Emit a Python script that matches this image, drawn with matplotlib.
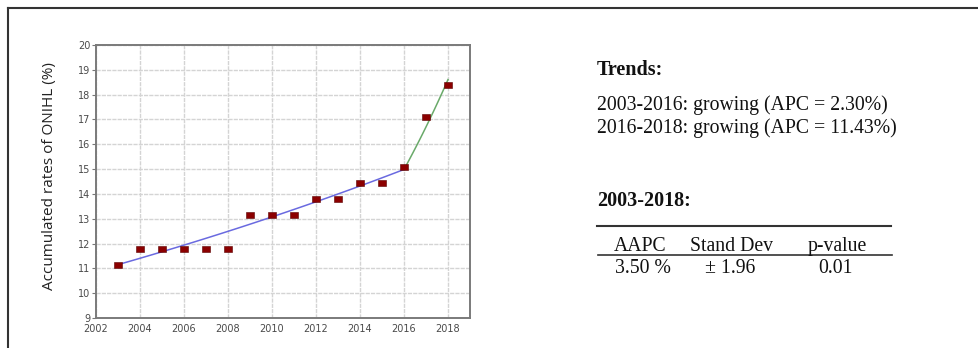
import matplotlib

matplotlib.use("Agg")
import matplotlib.pyplot as plt
import numpy as np
from matplotlib.lines import Line2D
from matplotlib.path import Path

# Observed accumulated rates per year
years = [2003, 2004, 2005, 2006, 2007, 2008, 2009, 2010,
         2011, 2012, 2013, 2014, 2015, 2016, 2017, 2018]
rates = [11.15, 11.8, 11.8, 11.8, 11.8, 11.8, 13.15, 13.15,
         13.15, 13.8, 13.8, 14.45, 14.45, 15.1, 17.1, 18.4]

# Joinpoint segments: start year, end year, APC (%)
seg_years = [(2003, 2016), (2016, 2018)]
seg_apc = [2.30, 11.43]
fit_start = 11.15

aapc = "3.50 %"
stand_dev = "\u00b1 1.96"
p_value = "0.01"

fig = plt.figure(figsize=(9.79, 3.48), dpi=100)
W, H = 979, 348

ax = fig.add_axes([96 / W, 1 - 318 / H, (470 - 96) / W, (318 - 45) / H])
ax.set_xlim(2002, 2019)
ax.set_ylim(9, 20)
ax.set_xticks(np.arange(2002, 2019, 2))
ax.set_yticks(np.arange(9, 21, 1))
ax.grid(True, color="#d4d4d4", linewidth=1.0, linestyle=(0, (3, 0.8)))
ax.set_axisbelow(True)
for s in ax.spines.values():
    s.set_color("#7a7a7a")
    s.set_linewidth(1.4)
ax.tick_params(axis="y", length=3, width=0.8, color="#777777",
               labelsize=7, labelcolor="#4a4a4a", pad=1)
ax.tick_params(axis="x", length=0, labelsize=7, labelcolor="#4a4a4a", pad=4)

# fitted segments from the APC values
seg_colors = ["#6a6ae0", "#6aaa6a"]
level = fit_start
for (y0, y1), apc, c in zip(seg_years, seg_apc, seg_colors):
    t = np.linspace(y0, y1, 50)
    vals = level * (1 + apc / 100) ** (t - y0)
    ax.plot(t, vals, color=c, linewidth=1.1, zorder=2)
    level = vals[-1]

rect = Path([(-1.5, -1), (1.5, -1), (1.5, 1), (-1.5, 1), (-1.5, -1)],
            [Path.MOVETO, Path.LINETO, Path.LINETO, Path.LINETO, Path.CLOSEPOLY])
ax.plot(years, rates, linestyle="none", marker=rect, markersize=5.5,
        markerfacecolor="#8b0000", markeredgecolor="#5a0000",
        markeredgewidth=0.4, zorder=3)

fig.text(50 / W, 1 - 176 / H, "Accumulated rates of ONIHL (%)",
         rotation=90, ha="center", va="center", fontsize=11,
         family="Open Sans", color="#222222")

# outer frame
fig.add_artist(Line2D([8 / W, 1], [1 - 8 / H, 1 - 8 / H],
                      transform=fig.transFigure, color="#333333", linewidth=1.5))
fig.add_artist(Line2D([8 / W, 8 / W], [1 - 8 / H, 0],
                      transform=fig.transFigure, color="#333333", linewidth=1.5))

serif = "Liberation Serif"
x0 = 597 / W


def fy(py):
    return 1 - py / H


fig.text(x0, fy(75), "Trends:", family=serif, fontsize=14.5, weight="bold",
         va="baseline", color="#111111")
lines = [f"{a}-{b}: growing (APC = {apc:.2f}%)" for (a, b), apc in zip(seg_years, seg_apc)]
fig.text(x0, fy(110), lines[0], family=serif, fontsize=14.2, va="baseline", color="#111111")
fig.text(x0, fy(133), lines[1], family=serif, fontsize=14.2, va="baseline", color="#111111")

fig.text(x0, fy(206), "2003-2018:", family=serif, fontsize=14.5, weight="bold",
         va="baseline", color="#111111")

fig.add_artist(Line2D([597 / W, 891 / W], [fy(226), fy(226)],
                      transform=fig.transFigure, color="#333333", linewidth=1.5))
fig.add_artist(Line2D([598 / W, 892 / W], [fy(255), fy(255)],
                      transform=fig.transFigure, color="#333333", linewidth=1.2))

headers = ["AAPC", "Stand Dev", "p-value"]
values = [aapc, stand_dev, p_value]
head_x = [640, 732, 837]
val_x = [643, 730, 836]
for h, hx in zip(headers, head_x):
    fig.text(hx / W, fy(251), h, family=serif, fontsize=14.2, ha="center",
             va="baseline", color="#111111")
for v, vx in zip(values, val_x):
    fig.text(vx / W, fy(273), v, family=serif, fontsize=14.2, ha="center",
             va="baseline", color="#111111")

fig.savefig("out.png", dpi=100)
